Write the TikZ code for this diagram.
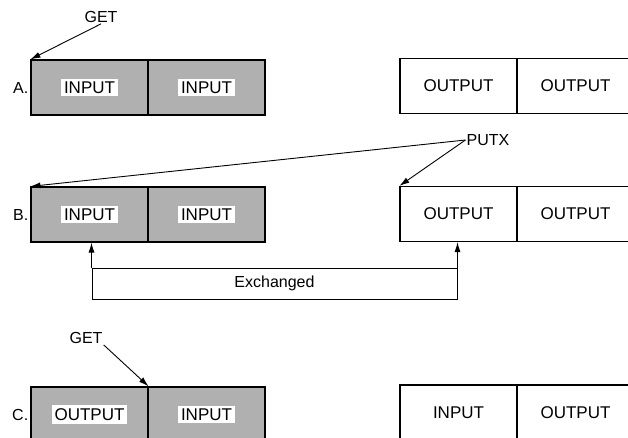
\documentclass[tikz,border=0pt]{standalone}
\usepackage{fontspec}
\setmainfont{Liberation Sans}
\usetikzlibrary{positioning, arrows.meta}
\newcommand{\wbox}[1]{{\setlength{\fboxsep}{3pt}\colorbox{white}{#1}}}

\begin{document}
\begin{tikzpicture}[x=1pt, y=-1pt, node distance=117pt]
	\tikzset{c/.style={draw=black, line width=1.2pt, minimum width=117pt, minimum height=55pt, inner sep=0pt, font=\fontsize{17}{19}\selectfont},
	s/.style={c, fill=gray!62},
	t/.style={font=\fontsize{16}{18}\selectfont, inner sep=1pt},
	f/.style={-{Latex[length=10pt, width=6pt]}, line width=0.9pt}};

	\clip (0,0) rectangle (628,438);

	% A
	\node[s] (a1) at (89.5,87.5) {\wbox{INPUT}};
	\node[s, right of=a1] (a2) {\wbox{INPUT}};
	\node[c] (ao1) at (458.5,86) {OUTPUT};
	\node[c, right of=ao1] (ao2) {OUTPUT};
	\node[t, left=1pt of a1] (la) {A.};
	\node[t] (getA) at (101,17) {GET};
	\draw[f] (getA.south) -- (a1.north west);

	% B
	\node[s] (b1) at (89.5,214.5) {\wbox{INPUT}};
	\node[s, right of=b1] (b2) {\wbox{INPUT}};
	\node[c] (bo1) at (458.5,214) {OUTPUT};
	\node[c, right of=bo1] (bo2) {OUTPUT};
	\node[t, left=1pt of b1] (lb) {B.};
	\node[t] (putx) at (488,140) {PUTX};
	\draw[f] (putx.west) -- (b1.north west);
	\draw[f] (putx.west) -- (bo1.north west);

	\node[draw=black, line width=1pt, minimum width=365pt, minimum height=31pt, t] (ex) at (274.5,283.5) {Exchanged};
	\draw[f] (ex.north west) -- (ex.north west |- b1.south);
	\draw[f] (ex.north east) -- (ex.north east |- bo1.south);

	% C
	\node[s] (c1) at (89.5,414.5) {\wbox{OUTPUT}};
	\node[s, right of=c1] (c2) {\wbox{INPUT}};
	\node[c] (co1) at (458.5,412.5) {INPUT};
	\node[c, right of=co1] (co2) {OUTPUT};
	\node[t, left=1pt of c1] (lc) {C.};
	\node[t] (getC) at (86,338) {GET};
	\draw[f] (getC.south east) -- (c1.north east);
\end{tikzpicture}
\end{document}
